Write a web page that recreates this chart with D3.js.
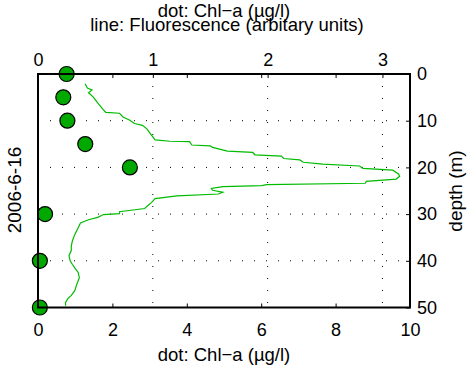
<!DOCTYPE html>
<html>
<head>
<meta charset="utf-8">
<script src="https://cdn.jsdelivr.net/npm/d3@7"></script>
<style>
  body { margin: 0; background: #fff; }
  svg { display: block; font-family: "Liberation Sans", Arial, sans-serif; }
  .axis text { font-size: 18px; fill: #000; }
  .axis .domain { display: none; }
  .axis line { stroke: #000; stroke-width: 1; }
</style>
</head>
<body>
<svg id="chart" width="472" height="367"></svg>
<script>
// Chl-a samples (dots): depth in m, value in ug/l
var chlDepth = [0, 5, 10, 15, 20, 30, 40, 50];
var chlValue = [0.77, 0.68, 0.79, 1.27, 2.47, 0.19, 0.05, 0.05];

// fluorescence profile (line), arbitrary units vs depth
var fluDepth = [2.1, 3.0, 3.4, 4.0, 4.9, 6.2, 7.7, 8.2, 8.4, 9.2, 9.9, 10.6, 11.0, 11.8, 12.8, 14.1,
  14.4, 14.5, 15.2, 15.4, 15.7, 16.5, 16.8, 17.3, 17.6, 18.1, 18.4, 18.9, 19.3, 19.7, 20.2, 20.6,
  21.4, 21.9, 22.5, 23.0, 23.4, 23.7, 23.9, 24.1, 24.5, 24.9, 25.3, 25.7, 26.1, 26.7, 27.5, 28.3,
  28.8, 29.5, 29.9, 30.1, 30.7, 31.2, 31.9, 32.9, 34.4, 35.7, 36.8, 37.8, 38.9, 40.0, 40.8, 41.5,
  42.5, 43.6, 44.9, 46.4, 47.4, 48.1, 48.9, 49.6];
var fluValue = [0.41, 0.43, 0.47, 0.44, 0.48, 0.52, 0.57, 0.59, 0.71, 0.74, 0.80, 0.84, 0.91, 0.95, 0.98, 1.02,
  1.15, 1.32, 1.34, 1.50, 1.52, 1.65, 1.87, 1.89, 2.12, 2.14, 2.28, 2.31, 2.48, 2.80, 2.83, 3.09,
  3.14, 3.15, 3.12, 2.86, 2.85, 1.99, 1.95, 1.61, 1.51, 1.52, 1.61, 1.57, 1.21, 1.02, 0.99, 0.95,
  0.93, 0.71, 0.71, 0.57, 0.52, 0.44, 0.37, 0.35, 0.32, 0.30, 0.29, 0.29, 0.27, 0.28, 0.30, 0.32,
  0.35, 0.36, 0.34, 0.32, 0.29, 0.26, 0.24, 0.24];

var chlTicks = [0, 2, 4, 6, 8, 10];
var fluTicks = [0, 1, 2, 3];
var depthTicks = [0, 10, 20, 30, 40, 50];

var svg = d3.select("#chart"),
    plotL = 38, plotR = 410, plotT = 74, plotB = 307.5;

var xChl = d3.scaleLinear().domain([0, 10]).range([plotL, plotR]),
    xFlu = d3.scaleLinear().domain([0, 3.24]).range([plotL, plotR]),
    y = d3.scaleLinear().domain([0, 50]).range([plotT, plotB]);

// dotted grid (fluorescence x ticks, depth y ticks)
var grid = svg.append("g");
grid.selectAll(".gv")
    .data(fluTicks.slice(1))
  .enter().append("line")
    .attr("x1", function(d) { return xFlu(d); })
    .attr("x2", function(d) { return xFlu(d); })
    .attr("y1", plotT).attr("y2", plotB)
    .attr("stroke", "#000").attr("stroke-width", 1)
    .attr("stroke-dasharray", "1,11");
grid.selectAll(".gh")
    .data(depthTicks.slice(1, -1))
  .enter().append("line")
    .attr("x1", plotL).attr("x2", plotR)
    .attr("y1", function(d) { return y(d); })
    .attr("y2", function(d) { return y(d); })
    .attr("stroke", "#000").attr("stroke-width", 1)
    .attr("stroke-dasharray", "1,11");

// fluorescence line
var line = d3.line()
    .x(function(d, i) { return xFlu(fluValue[i]); })
    .y(function(d) { return y(d); });
svg.append("path")
    .datum(fluDepth)
    .attr("d", line)
    .attr("fill", "none")
    .attr("stroke", "#00bb00")
    .attr("stroke-width", 1.2);

// Chl-a dots
svg.selectAll(".dot")
    .data(chlDepth)
  .enter().append("circle")
    .attr("cx", function(d, i) { return xChl(chlValue[i]); })
    .attr("cy", function(d) { return y(d); })
    .attr("r", 7.5)
    .attr("fill", "#00a800")
    .attr("stroke", "#000")
    .attr("stroke-width", 1.2);

// axes
svg.append("g")
    .attr("class", "axis")
    .attr("transform", "translate(0," + plotB + ")")
    .call(d3.axisBottom(xChl).tickValues(chlTicks).tickSize(-4).tickPadding(16));

svg.append("g")
    .attr("class", "axis")
    .attr("transform", "translate(0," + plotT + ")")
    .call(d3.axisTop(xFlu).tickValues(fluTicks).tickSize(-4).tickPadding(8).tickFormat(d3.format("d")));

// mirrored chl ticks along the top edge
svg.append("g")
    .attr("class", "axis")
    .attr("transform", "translate(0," + plotT + ")")
    .call(d3.axisTop(xChl).tickValues(chlTicks.slice(1, -1)).tickSize(-4).tickFormat(""));

svg.append("g")
    .attr("class", "axis")
    .attr("transform", "translate(" + plotR + ",0)")
    .call(d3.axisRight(y).tickValues(depthTicks).tickSize(-4).tickPadding(7));

// frame
svg.append("rect")
    .attr("x", plotL).attr("y", plotT)
    .attr("width", plotR - plotL).attr("height", plotB - plotT)
    .attr("fill", "none")
    .attr("stroke", "#000")
    .attr("stroke-width", 2);

// labels
svg.append("text")
    .attr("x", 224).attr("y", 17)
    .attr("text-anchor", "middle")
    .style("font-size", "18.5px")
    .text("dot: Chl\u2212a (\u00b5g/l)");
svg.append("text")
    .attr("x", 227).attr("y", 31)
    .attr("text-anchor", "middle")
    .style("font-size", "18.5px")
    .text("line: Fluorescence (arbitary units)");
svg.append("text")
    .attr("x", 224).attr("y", 361)
    .attr("text-anchor", "middle")
    .style("font-size", "18.5px")
    .text("dot: Chl\u2212a (\u00b5g/l)");
svg.append("text")
    .attr("transform", "translate(462,191) rotate(-90)")
    .attr("text-anchor", "middle")
    .style("font-size", "19px")
    .text("depth (m)");
svg.append("text")
    .attr("transform", "translate(21,190) rotate(-90)")
    .attr("text-anchor", "middle")
    .style("font-size", "19px")
    .text("2006-6-16");
</script>
</body>
</html>
